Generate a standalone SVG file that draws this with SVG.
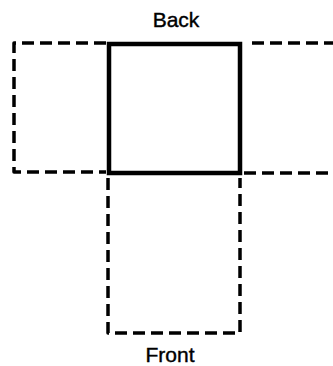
<svg xmlns="http://www.w3.org/2000/svg" width="333" height="366" viewBox="0 0 333 366">
<style>
.dash{fill:none;stroke:#000;stroke-width:3.5;stroke-dasharray:12 6;stroke-linecap:butt;stroke-linejoin:round}
.solid{fill:none;stroke:#000;stroke-width:4.5}
.lbl{font-family:"Liberation Sans",Arial,sans-serif;font-size:21px;fill:#000;text-anchor:middle;stroke:#000;stroke-width:0.4}
</style>
<rect width="333" height="366" fill="#fff"/>
<g id="connectors">
<path class="dash" d="M106,43 H14 V172 H106"/>
<path class="dash" d="M252,43 H333"/>
<path class="dash" d="M244,173 H333"/>
<path class="dash" d="M108,178 V333 H240 V178"/>
</g>
<g id="back">
<rect class="solid" x="109" y="44" width="131" height="129"/>
<text class="lbl" x="176" y="27">Back</text>
</g>
<g id="front">
<text class="lbl" x="170" y="362">Front</text>
</g>
</svg>
